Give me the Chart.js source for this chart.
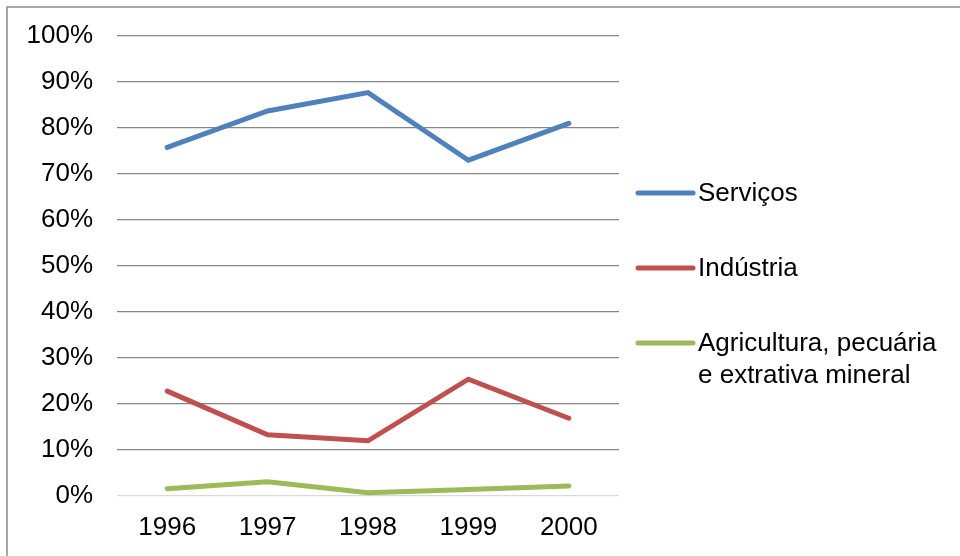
<!DOCTYPE html>
<html>
<head>
<meta charset="utf-8">
<script src="https://cdn.jsdelivr.net/npm/chart.js@4/dist/chart.umd.min.js"></script>
<style>
  html, body { margin: 0; padding: 0; background: #fff; }
  #wrap { width: 960px; height: 556px; }
</style>
</head>
<body>
<div id="wrap"><canvas id="setoresChart" width="960" height="556"></canvas></div>
<script>
var anos = ["1996", "1997", "1998", "1999", "2000"];
var setores = ["Serviços", "Indústria", "Agricultura, pecuária e extrativa mineral"];
var servicos = [75.8, 83.7, 87.7, 73.0, 81.0];
var industria = [22.8, 13.3, 12.0, 25.4, 16.9];
var agricultura = [1.6, 3.1, 0.7, 1.4, 2.2];
var cores = ["#4f81bd", "#c0504d", "#9bbb59"];

var fonte = '"Liberation Sans", Arial, sans-serif';
var tamanho = 26;

// moldura cinza em volta do gráfico
var moldura = {
  id: "moldura",
  beforeDraw: function (chart) {
    var c = chart.ctx;
    c.save();
    c.strokeStyle = "#8c8c8c";
    c.lineWidth = 1.5;
    c.strokeRect(7, 7, 2000, 2000);
    c.restore();
  },
};

// legenda à direita, com quebra de linha nos nomes longos
var legendaDireita = {
  id: "legendaDireita",
  afterDraw: function (chart) {
    var c = chart.ctx;
    var x0 = 638, x1 = 693, xt = 698, y = 194, passo = 75, maxW = 255, lh = 32;
    c.save();
    c.font = tamanho + "px " + fonte;
    c.textBaseline = "middle";
    c.textAlign = "left";
    chart.data.datasets.forEach(function (ds) {
      c.strokeStyle = ds.borderColor;
      c.lineWidth = 5;
      c.lineCap = "round";
      c.beginPath();
      c.moveTo(x0, y - 1);
      c.lineTo(x1, y - 1);
      c.stroke();
      var palavras = ds.label.split(" ");
      var linhas = [];
      var atual = "";
      palavras.forEach(function (p) {
        var teste = atual ? atual + " " + p : p;
        if (atual && c.measureText(teste).width > maxW) {
          linhas.push(atual);
          atual = p;
        } else {
          atual = teste;
        }
      });
      linhas.push(atual);
      c.fillStyle = "#000";
      linhas.forEach(function (l, i) {
        c.fillText(l, xt, y + i * lh);
      });
      y += passo;
    });
    c.restore();
  },
};

function serie(nome, valores, cor) {
  return {
    label: nome,
    data: valores,
    borderColor: cor,
    backgroundColor: cor,
    borderWidth: 5,
    borderCapStyle: "round",
    borderJoinStyle: "miter",
    pointRadius: 0,
    pointHoverRadius: 0,
    tension: 0,
    fill: false,
  };
}

var ctx = document.getElementById("setoresChart").getContext("2d");
var setoresChart = new Chart(ctx, {
  type: "line",
  data: {
    labels: anos,
    datasets: [
      serie(setores[0], servicos, cores[0]),
      serie(setores[1], industria, cores[1]),
      serie(setores[2], agricultura, cores[2]),
    ],
  },
  options: {
    responsive: false,
    animation: false,
    layout: {
      padding: { left: 8, right: 341, top: 36, bottom: 0 },
    },
    scales: {
      x: {
        offset: true,
        grid: { display: false, drawTicks: false },
        border: { display: false },
        ticks: {
          padding: 16,
          color: "#000",
          font: { family: fonte, size: tamanho },
          maxRotation: 0,
        },
        afterFit: function (axis) {
          axis.height = 60;
          axis.paddingLeft = 0;
          axis.paddingRight = 0;
        },
      },
      y: {
        min: 0,
        max: 100,
        border: { display: false },
        grid: {
          drawTicks: false,
          lineWidth: 1.3,
          color: function (c) {
            return c.tick && c.tick.value === 0 ? "#d9d9d9" : "#868686";
          },
        },
        ticks: {
          stepSize: 10,
          padding: 24,
          color: "#000",
          font: { family: fonte, size: tamanho },
          callback: function (v) {
            return v + "%";
          },
        },
        afterFit: function (axis) {
          axis.width = 109;
          axis.paddingTop = 0;
          axis.paddingBottom = 0;
        },
      },
    },
    plugins: {
      legend: { display: false },
      tooltip: { enabled: false },
    },
  },
  plugins: [moldura, legendaDireita],
});
</script>
</body>
</html>
